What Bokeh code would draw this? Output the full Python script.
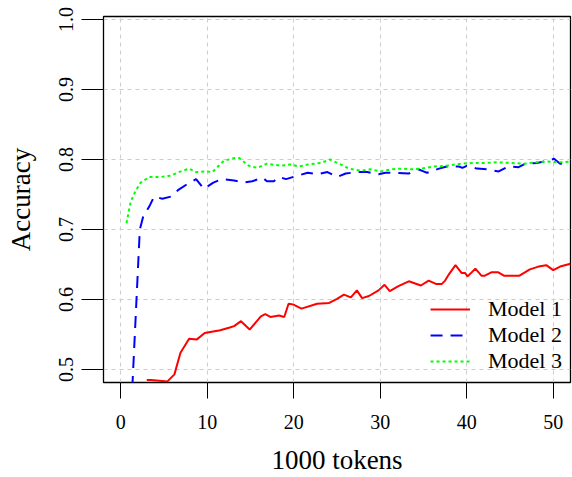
from bokeh.plotting import figure
from bokeh.models import Range1d, FixedTicker, Legend, LegendItem
from bokeh.embed import file_html
from bokeh.resources import INLINE

# ---- data ----
m1_x = [3.0, 3.5, 5.4, 6.2, 6.9, 7.9, 8.8, 9.7, 11.5, 12.6, 13.1, 13.9, 14.9, 16.2, 16.7,
        17.3, 18.3, 18.9, 19.4, 19.9, 20.9, 22.7, 24.1, 25.0, 25.8, 26.6, 27.3, 27.9, 28.7,
        29.8, 30.5, 31.1, 32.1, 33.3, 34.7, 35.6, 36.5, 37.1, 37.5, 38.0, 38.7, 39.4, 39.8,
        40.1, 41.0, 41.7, 42.1, 42.9, 43.6, 44.3, 46.1, 47.3, 48.3, 49.2, 50.0, 50.8, 52.0]
m1_y = [0.485, 0.485, 0.483, 0.493, 0.524, 0.544, 0.543, 0.552, 0.556, 0.560, 0.562, 0.569,
        0.557, 0.576, 0.579, 0.575, 0.577, 0.575, 0.594, 0.593, 0.587, 0.594, 0.595, 0.601,
        0.607, 0.603, 0.613, 0.602, 0.605, 0.613, 0.621, 0.612, 0.619, 0.626, 0.620, 0.627,
        0.622, 0.622, 0.627, 0.637, 0.649, 0.638, 0.638, 0.633, 0.644, 0.634, 0.634, 0.639,
        0.639, 0.634, 0.634, 0.643, 0.647, 0.649, 0.642, 0.647, 0.651]

m2_x = [1.0, 2.2, 2.6, 3.3, 3.85, 4.8, 5.8, 6.7, 7.7, 8.7, 9.6, 10.7, 11.7, 13.1, 14.2,
        15.2, 16.4, 16.9, 17.7, 18.3, 19.1, 20.2, 21.6, 22.7, 23.9, 25.0, 26.0, 27.3, 28.5,
        29.8, 30.6, 31.9, 33.3, 34.4, 35.0, 35.4, 36.8, 37.7, 39.1, 39.5, 40.0, 41.2, 42.3,
        43.7, 44.8, 46.0, 46.8, 48.1, 49.3, 50.1, 50.8, 52.0]
m2_y = [0.388, 0.700, 0.719, 0.733, 0.747, 0.744, 0.747, 0.757, 0.765, 0.772, 0.758, 0.767,
        0.772, 0.770, 0.767, 0.769, 0.774, 0.769, 0.769, 0.775, 0.772, 0.776, 0.781, 0.779,
        0.782, 0.775, 0.780, 0.782, 0.782, 0.779, 0.781, 0.781, 0.780, 0.786, 0.783, 0.781,
        0.787, 0.790, 0.790, 0.788, 0.791, 0.787, 0.786, 0.783, 0.790, 0.789, 0.794, 0.795,
        0.798, 0.801, 0.794, 0.796]

m3_x = [0.66, 1.15, 1.7, 2.3, 3.3, 4.6, 5.8, 6.7, 7.9, 8.7, 9.8, 10.6, 11.0, 11.9, 13.1,
        13.7, 14.8, 15.8, 16.9, 18.5, 19.6, 20.6, 21.7, 23.1, 24.2, 25.4, 26.4, 27.7, 28.9,
        30.0, 31.4, 32.5, 33.7, 34.8, 36.2, 37.7, 39.3, 40.6, 42.0, 43.5, 45.2, 46.6, 48.1,
        49.3, 50.8, 52.0]
m3_y = [0.709, 0.740, 0.755, 0.767, 0.775, 0.775, 0.777, 0.782, 0.787, 0.782, 0.783, 0.782,
        0.787, 0.798, 0.802, 0.802, 0.791, 0.788, 0.794, 0.791, 0.793, 0.790, 0.793, 0.795,
        0.800, 0.793, 0.787, 0.784, 0.786, 0.783, 0.786, 0.787, 0.786, 0.787, 0.790, 0.791,
        0.794, 0.795, 0.795, 0.796, 0.795, 0.794, 0.796, 0.797, 0.796, 0.797]

series_names = ["Model 1", "Model 2", "Model 3"]
x_ticks = [0, 10, 20, 30, 40, 50]
y_ticks = [0.5, 0.6, 0.7, 0.8, 0.9, 1.0]
y_tick_labels = ["0.5", "0.6", "0.7", "0.8", "0.9", "1.0"]
x_label = "1000 tokens"
y_label = "Accuracy"

FONT = "Liberation Serif"

p = figure(frame_width=467, frame_height=366, output_backend="svg", toolbar_location=None,
           x_range=Range1d(-2.0, 52.0), y_range=Range1d(0.4814, 1.0043),
           min_border_left=103, min_border_right=2, min_border_top=16, min_border_bottom=0)
p.background_fill_color = "white"
p.border_fill_color = "white"
p.outline_line_color = "black"
p.outline_line_width = 1.3
p.outline_line_alpha = 1.0

# axes
p.xaxis.ticker = FixedTicker(ticks=x_ticks)
p.yaxis.ticker = FixedTicker(ticks=y_ticks)
p.yaxis.major_label_overrides = {t: l for t, l in zip(y_ticks, y_tick_labels)}
p.xaxis.axis_label = x_label
p.yaxis.axis_label = y_label
for ax in (p.xaxis, p.yaxis):
    ax.axis_line_color = None
    ax.major_tick_in = 0
    ax.major_tick_line_color = "black"
    ax.major_tick_line_width = 1
    ax.minor_tick_line_color = None
    ax.major_label_text_font = FONT
    ax.major_label_text_font_size = "20px"
    ax.major_label_text_color = "black"
    ax.axis_label_text_font = FONT
    ax.axis_label_text_font_size = "27px"
    ax.axis_label_text_font_style = "normal"
    ax.axis_label_text_color = "black"
p.xaxis.major_tick_out = 16
p.xaxis.major_label_standoff = 16
p.xaxis.axis_label_standoff = 13
p.yaxis.major_tick_out = 22
p.yaxis.major_label_standoff = 8
p.yaxis.major_label_orientation = "vertical"
p.yaxis.axis_label_standoff = 21

# grid
for g in (p.xgrid, p.ygrid):
    g.grid_line_color = "#cccccc"
    g.grid_line_dash = "4 4"
    g.grid_line_width = 1

r1 = p.line(m1_x, m1_y, line_color="#ff0000", line_width=2)
r2 = p.line(m2_x, m2_y, line_color="#0000ff", line_width=2, line_dash="12 8")
r3 = p.line(m3_x, m3_y, line_color="#00ff00", line_width=2, line_dash="3 3")

legend = Legend(items=[LegendItem(label=series_names[0], renderers=[r1]),
                       LegendItem(label=series_names[1], renderers=[r2]),
                       LegendItem(label=series_names[2], renderers=[r3])],
                location="bottom_right")
legend.background_fill_alpha = 0
legend.border_line_alpha = 0
legend.label_text_font = FONT
legend.label_text_font_size = "22px"
legend.label_text_color = "black"
legend.glyph_width = 40
legend.glyph_height = 20
legend.label_height = 20
legend.label_standoff = 18
legend.spacing = 0
legend.padding = 4
legend.margin = 4
p.add_layout(legend)

open("out.html", "w").write(file_html(p, INLINE))
